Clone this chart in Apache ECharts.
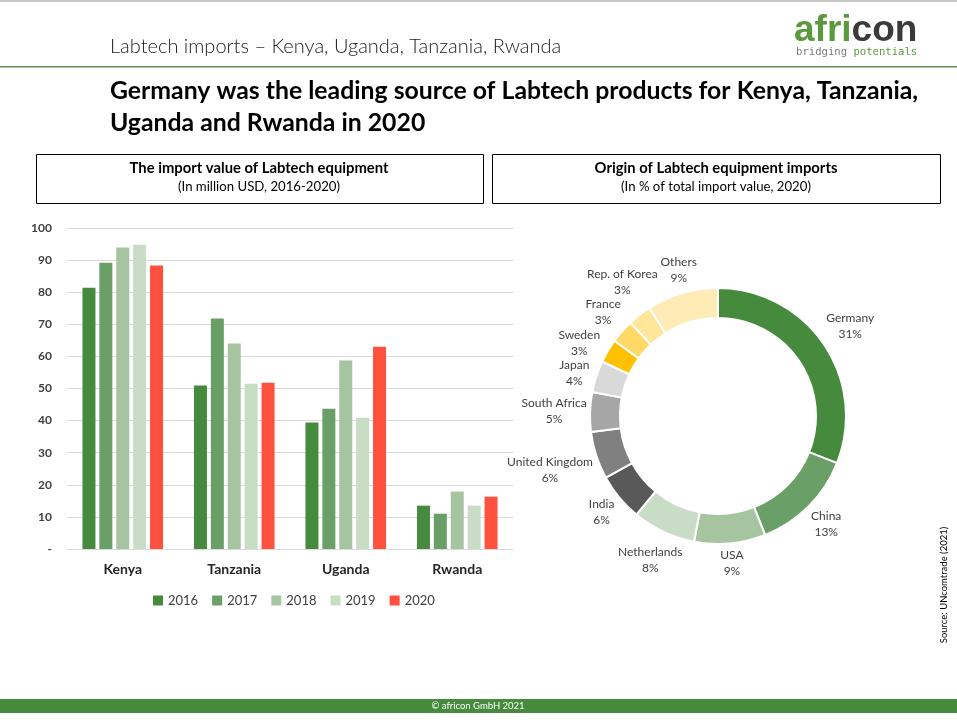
<!DOCTYPE html>
<html>
<head>
<meta charset="utf-8">
<title>Labtech imports</title>
<script src="https://cdn.jsdelivr.net/npm/echarts@6/dist/echarts.min.js"></script>
<style>
  html, body { margin: 0; padding: 0; background: #fff; }
  #main { width: 957px; height: 722px; }
</style>
</head>
<body>
<div id="main"></div>
<script>
// bar chart data (million USD)
var countries = ['Kenya', 'Tanzania', 'Uganda', 'Rwanda'];
var years = ['2016', '2017', '2018', '2019', '2020'];
var v2016 = [81.4, 50.9, 39.4, 13.5];
var v2017 = [89.2, 71.8, 43.7, 11.0];
var v2018 = [93.9, 64.0, 58.7, 17.9];
var v2019 = [94.8, 51.5, 40.9, 13.5];
var v2020 = [88.3, 51.8, 63.0, 16.3];
var yTicks = [0, 10, 20, 30, 40, 50, 60, 70, 80, 90, 100];

// donut data (% of import value, 2020)
var origins = ['Germany', 'China', 'USA', 'Netherlands', 'India', 'United Kingdom',
  'South Africa', 'Japan', 'Sweden', 'France', 'Rep. of Korea', 'Others'];
var shares = [31, 13, 9, 8, 6, 6, 5, 4, 3, 3, 3, 9];

var barColors = ['#468a3e', '#6aa067', '#a5c49f', '#c9dcc5', '#ff513d'];
var pieColors = ['#468a3e', '#6aa067', '#a5c49f', '#c9dcc5', '#595959', '#808080',
  '#a6a6a6', '#d9d9d9', '#ffc000', '#ffd966', '#ffe699', '#ffebb6'];

var font = 'Lato, "Liberation Sans", sans-serif';
var pieCenter = [718, 416];
var pieR = [98, 128];
var labelFont = '12px ' + font;
var labelLH = 16;

var yearData = [v2016, v2017, v2018, v2019, v2020];
var total = shares.reduce(function (a, b) { return a + b; }, 0);
var cum = [];
shares.reduce(function (acc, v, i) { cum[i] = acc; return acc + v; }, 0);

// label placement outside the ring, like Excel "outside end", with a small spread so boxes don't collide
var ctx = document.createElement('canvas').getContext('2d');
ctx.font = labelFont;
var boxes = origins.map(function (n, i) {
  return {
    w: Math.max(ctx.measureText(n).width, ctx.measureText(shares[i] + '%').width),
    h: labelLH * 2
  };
});
var angles = shares.map(function (v, i) { return (cum[i] + v / 2) / total * Math.PI * 2; });

function placeLabel(i, th) {
  var sx = Math.sin(th), sy = -Math.cos(th);
  var r = pieR[1] + 3 + (boxes[i].w / 2) * Math.abs(sx) + (boxes[i].h / 2) * Math.abs(sy);
  return { x: pieCenter[0] + r * sx, y: pieCenter[1] + r * sy, w: boxes[i].w, h: boxes[i].h };
}
function overlaps(a, b) {
  return Math.abs(a.x - b.x) < (a.w + b.w) / 2 + 2 && Math.abs(a.y - b.y) < (a.h + b.h) / 2 - 2;
}
for (var it = 0; it < 200; it++) {
  var moved = false;
  for (var i = 0; i < origins.length; i++) {
    var j = (i + 1) % origins.length;
    if (overlaps(placeLabel(i, angles[i]), placeLabel(j, angles[j]))) {
      angles[i] -= 0.004;
      angles[j] += 0.004;
      moved = true;
    }
  }
  if (!moved) break;
}

var myChart = echarts.init(document.getElementById('main'));

var barSeries = years.map(function (y, i) {
  return {
    name: y,
    type: 'bar',
    data: yearData[i],
    barWidth: 13,
    barGap: '30%',
    itemStyle: { color: barColors[i] },
    emphasis: { disabled: true }
  };
});

var option = {
  animation: false,
  textStyle: { fontFamily: font },
  graphic: [
    { type: 'rect', shape: { x: 0, y: 0, width: 957, height: 2 }, style: { fill: '#c8c8c8' } },
    { type: 'text', left: 110, top: 37, style: { text: 'Labtech imports \u2013 Kenya, Uganda, Tanzania, Rwanda', font: '300 20px ' + font, fill: '#1a1a1a' } },
    { type: 'rect', shape: { x: 0, y: 66, width: 957, height: 1.5 }, style: { fill: '#5f9150' } },
    { type: 'text', left: 794, top: 12, style: {
        text: '{a|afri}{b|con}',
        rich: {
          a: { font: 'bold 37px "Liberation Sans", Arial, sans-serif', fill: '#5a9a3c' },
          b: { font: 'bold 37px "Liberation Sans", Arial, sans-serif', fill: '#3a3a3a' }
        } } },
    { type: 'text', left: 796, top: 47, style: {
        text: '{a|bridging }{b|potentials}',
        rich: {
          a: { font: '10.6px "DejaVu Sans Mono", monospace', fill: '#7a7a7a' },
          b: { font: '10.6px "DejaVu Sans Mono", monospace', fill: '#5a9a3c' }
        } } },
    { type: 'text', left: 110, top: 75, style: {
        text: 'Germany was the leading source of Labtech products for Kenya, Tanzania,\nUganda and Rwanda in 2020',
        font: 'bold 24.8px ' + font, fill: '#000', lineHeight: 32 } },
    { type: 'rect', shape: { x: 36.5, y: 154.5, width: 447, height: 49 }, style: { fill: 'none', stroke: '#000', lineWidth: 1 } },
    { type: 'rect', shape: { x: 492.5, y: 154.5, width: 448, height: 49 }, style: { fill: 'none', stroke: '#000', lineWidth: 1 } },
    { type: 'text', x: 259, y: 161, style: { text: 'The import value of Labtech equipment', font: 'bold 14.8px ' + font, fill: '#000', align: 'center' } },
    { type: 'text', x: 259, y: 180, style: { text: '(In million USD, 2016-2020)', font: '13.2px ' + font, fill: '#000', align: 'center' } },
    { type: 'text', x: 716, y: 161, style: { text: 'Origin of Labtech equipment imports', font: 'bold 14.8px ' + font, fill: '#000', align: 'center' } },
    { type: 'text', x: 716, y: 180, style: { text: '(In % of total import value, 2020)', font: '13.2px ' + font, fill: '#000', align: 'center' } },
    { type: 'text', x: 944, y: 585, rotation: Math.PI / 2, style: { text: 'Source: UNcomtrade (2021)', font: '9.5px ' + font, fill: '#000', align: 'center', verticalAlign: 'middle' } },
    { type: 'rect', shape: { x: 0, y: 699, width: 957, height: 14 }, style: { fill: '#468a3e' } },
    { type: 'text', x: 478, y: 706, style: { text: '\u00a9 africon GmbH 2021', font: '9.5px ' + font, fill: '#fff', align: 'center', verticalAlign: 'middle' } }
  ],
  legend: {
    data: years,
    left: 148,
    top: 589,
    icon: 'rect',
    itemWidth: 10,
    itemHeight: 10,
    itemGap: 14,
    textStyle: { fontSize: 13, color: '#404040', fontFamily: font }
  },
  grid: { left: 67, right: 444, top: 228, bottom: 173 },
  xAxis: {
    type: 'category',
    data: countries,
    axisLine: { lineStyle: { color: '#d9d9d9', width: 1 } },
    axisTick: { show: false },
    axisLabel: { margin: 13, fontSize: 14, fontWeight: 'bold', color: '#262626' }
  },
  yAxis: {
    type: 'value',
    min: yTicks[0],
    max: yTicks[yTicks.length - 1],
    interval: 10,
    axisLine: { show: false },
    axisTick: { show: false },
    splitLine: { lineStyle: { color: '#d9d9d9', width: 1 } },
    axisLabel: {
      margin: 15, fontSize: 12, fontWeight: 'bold', color: '#404040',
      formatter: function (v) { return v === 0 ? '-' : v; }
    }
  },
  series: barSeries.concat([{
    type: 'pie',
    center: pieCenter,
    radius: pieR,
    startAngle: 90,
    clockwise: true,
    avoidLabelOverlap: false,
    emphasis: { disabled: true },
    itemStyle: { borderColor: '#fff', borderWidth: 2 },
    label: {
      show: true,
      position: 'outside',
      formatter: '{b}\n{c}%',
      fontSize: 12,
      lineHeight: labelLH,
      color: '#404040',
      fontFamily: font
    },
    labelLine: { show: false },
    labelLayout: function (params) {
      var p = placeLabel(params.dataIndex, angles[params.dataIndex]);
      return { x: p.x, y: p.y, align: 'center', verticalAlign: 'middle' };
    },
    data: origins.map(function (n, i) {
      return { name: n, value: shares[i], itemStyle: { color: pieColors[i] } };
    })
  }])
};
myChart.setOption(option);
</script>
</body>
</html>
